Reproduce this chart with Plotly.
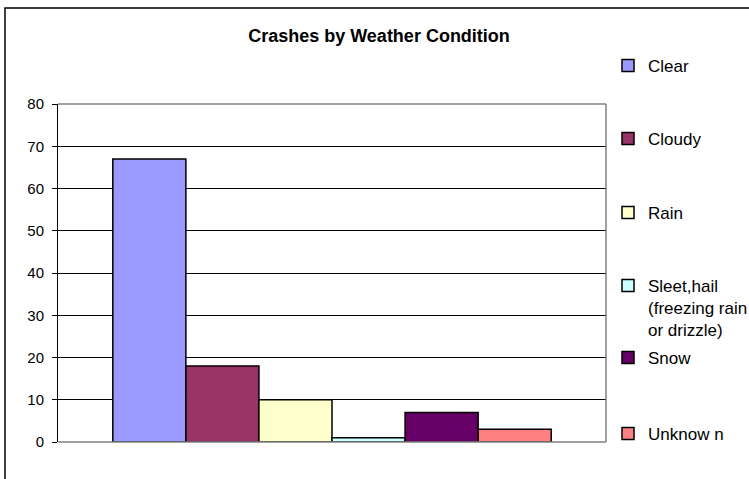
import plotly.graph_objects as go

# ---- data ----
conditions = ["Clear", "Cloudy", "Rain", "Sleet,hail<br>(freezing rain<br>or drizzle)", "Snow", "Unknow n"]
crashes = [67, 18, 10, 1, 7, 3]
x_category = [""]
y_ticks = [0, 10, 20, 30, 40, 50, 60, 70, 80]
title_text = "Crashes by Weather Condition"

# ---- styles ----
colors = ["#9999FF", "#993366", "#FFFFCC", "#CCFFFF", "#660066", "#FF8080"]

# figure is a bit wider than the 749px window so the legend text is clipped at the edge like the original
W, H = 775, 479
L, R, T, B = 58, 606, 104, 442
pw, ph = R - L, B - T

def px_x(x):
    return (x - L) / pw

def px_y(y):
    return (B - y) / ph

legend_names = ["legend", "legend2", "legend3", "legend4", "legend5", "legend6"]
marker_centers = [65, 138, 212, 285, 357, 433]

fig = go.Figure()
for name, val, col, lg in zip(conditions, crashes, colors, legend_names):
    fig.add_trace(go.Bar(
        x=x_category, y=[val], name=name, legend=lg,
        marker=dict(color=col, line=dict(color="#000000", width=1.5)),
    ))

legend_font = dict(family="Liberation Sans, Arial, sans-serif", size=17, color="#000000")
layout_legends = {}
for lg, yc in zip(legend_names, marker_centers):
    layout_legends[lg] = dict(
        x=px_x(608), xanchor="left",
        y=px_y(yc - 17), yanchor="top",
        font=legend_font, bgcolor="rgba(0,0,0,0)", borderwidth=0,
        valign="top", itemclick=False, itemdoubleclick=False,
    )

shapes = [
    # plot area border (top, right, bottom) in gray
    dict(type="line", xref="paper", yref="paper", x0=0, x1=1, y0=1, y1=1,
         line=dict(color="#808080", width=1.5), layer="above"),
    dict(type="line", xref="paper", yref="paper", x0=1, x1=1, y0=0, y1=1,
         line=dict(color="#808080", width=1.5), layer="above"),
    dict(type="line", xref="paper", yref="paper", x0=0, x1=1, y0=0, y1=0,
         line=dict(color="#808080", width=1.5), layer="above"),
    # outer chart border
    dict(type="rect", xref="paper", yref="paper",
         x0=px_x(5), x1=px_x(800), y0=px_y(500), y1=px_y(8),
         line=dict(color="#000000", width=1.5), fillcolor="rgba(0,0,0,0)", layer="above"),
]

fig.update_layout(
    width=W, height=H,
    margin=dict(l=L, r=W - R, t=T, b=H - B, pad=0),
    paper_bgcolor="#FFFFFF", plot_bgcolor="#FFFFFF",
    barmode="group", bargap=0.2, bargroupgap=0,
    showlegend=True,
    title=dict(text="<b>" + title_text + "</b>", x=379 / W, xanchor="center",
               y=1 - 36 / H, yanchor="middle", xref="container", yref="container",
               font=dict(family="Liberation Sans, Arial, sans-serif", size=18, color="#000000")),
    xaxis=dict(showticklabels=False, showgrid=False, zeroline=False, showline=False,
               ticks="", range=[-0.5, 0.5]),
    yaxis=dict(range=[0, 80], tickvals=y_ticks, ticktext=[str(v) for v in y_ticks],
               showgrid=True, gridcolor="#000000", gridwidth=1, zeroline=False,
               showline=True, linecolor="#000000", linewidth=1,
               ticks="outside", ticklen=5, tickcolor="#000000", tickwidth=1,
               ticklabelstandoff=5,
               tickfont=dict(family="Liberation Sans, Arial, sans-serif", size=15, color="#000000")),
    shapes=shapes,
    **layout_legends,
)

fig.write_html(
    "out.html",
    config={"displayModeBar": False},
    post_script="document.body.style.margin='0';document.body.style.overflow='hidden';",
)
